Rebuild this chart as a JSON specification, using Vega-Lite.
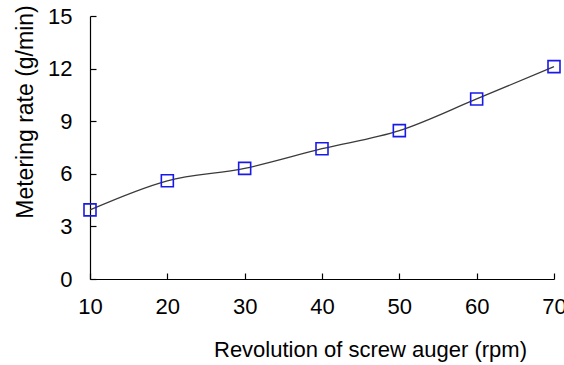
{
  "$schema": "https://vega.github.io/schema/vega-lite/v6.json",
  "width": 464,
  "height": 263,
  "autosize": "none",
  "padding": {"left": 90, "top": 16, "right": 10, "bottom": 86},
  "background": "white",
  "config": {
    "view": {"stroke": null},
    "font": "Liberation Sans",
    "axis": {
      "grid": false,
      "domainColor": "#000000",
      "tickColor": "#000000",
      "labelColor": "#000000",
      "titleColor": "#000000",
      "labelFont": "Liberation Sans",
      "titleFont": "Liberation Sans",
      "labelFontSize": 22,
      "titleFontSize": 22,
      "titleFontWeight": "normal",
      "domainWidth": 1.2,
      "tickWidth": 1.2
    }
  },
  "data": {
    "values": [
      {"rpm": 10, "rate": 3.94},
      {"rpm": 20, "rate": 5.6},
      {"rpm": 30, "rate": 6.31},
      {"rpm": 40, "rate": 7.43},
      {"rpm": 50, "rate": 8.46},
      {"rpm": 60, "rate": 10.27},
      {"rpm": 70, "rate": 12.11}
    ]
  },
  "encoding": {
    "x": {
      "field": "rpm",
      "type": "quantitative",
      "scale": {"domain": [10, 70], "nice": false, "zero": false},
      "axis": {
        "values": [10, 20, 30, 40, 50, 60, 70],
        "tickSize": -6,
        "labelPadding": 23,
        "labelFlush": false,
        "labelOverlap": false,
        "title": "Revolution of screw auger (rpm)",
        "titleX": 280,
        "titleY": 77,
        "titleAlign": "center",
        "titleBaseline": "alphabetic"
      }
    },
    "y": {
      "field": "rate",
      "type": "quantitative",
      "scale": {"domain": [0, 15], "nice": false},
      "axis": {
        "values": [0, 3, 6, 9, 12, 15],
        "tickSize": -6,
        "labelPadding": 24,
        "labelFlush": false,
        "labelOverlap": false,
        "title": "Metering rate (g/min)",
        "titleFontSize": 23,
        "titleAngle": -90,
        "titleX": -58,
        "titleY": 95.5,
        "titleAlign": "center",
        "titleBaseline": "alphabetic"
      }
    }
  },
  "layer": [
    {
      "mark": {"type": "line", "interpolate": "monotone", "color": "#3a3a3a", "strokeWidth": 1.3}
    },
    {
      "mark": {"type": "point", "shape": "square", "size": 144, "filled": false, "stroke": "#1a1ae6", "fill": "white", "fillOpacity": 0, "strokeWidth": 1.6, "opacity": 1}
    }
  ]
}
